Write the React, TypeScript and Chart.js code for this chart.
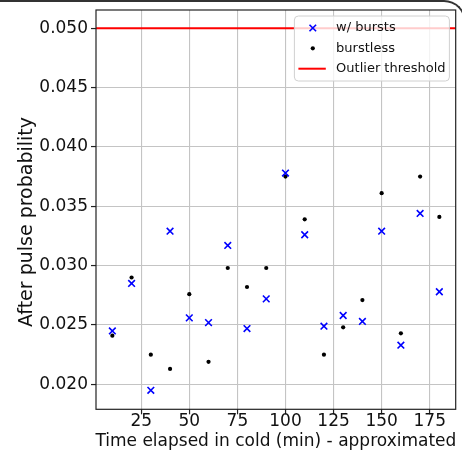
import React, { useEffect, useRef } from "react";
import { Chart, registerables } from "chart.js";

Chart.register(...registerables);

// ---- data ----
const minutes = [10, 20, 30, 40, 50, 60, 70, 80, 90, 100, 110, 120, 130, 140, 150, 160, 170, 180];
const withBursts = [0.0245, 0.0285, 0.0195, 0.0329, 0.0256, 0.0252, 0.0317, 0.0247, 0.0272, 0.0378, 0.0326, 0.0249, 0.0258, 0.0253, 0.0329, 0.0233, 0.0344, 0.0278];
const burstless = [0.0241, 0.0290, 0.0225, 0.0213, 0.0276, 0.0219, 0.0298, 0.0282, 0.0298, 0.0375, 0.0339, 0.0225, 0.0248, 0.0271, 0.0361, 0.0243, 0.0375, 0.0341];
const threshold = 0.05;
const xTicks = [25, 50, 75, 100, 125, 150, 175];
const yTicks = [0.02, 0.025, 0.03, 0.035, 0.04, 0.045, 0.05];
const xLimits = [1.5, 188.5];
const yLimits = [0.0179, 0.05153];
const legendLabels = ["w/ bursts", "burstless", "Outlier threshold"];
const xTitle = "Time elapsed in cold (min) - approximated";
const yTitle = "After pulse probability";

const FONT = '"DejaVu Sans", sans-serif';

const zeroPad = (s: any) => {
  s.paddingTop = 0;
  s.paddingBottom = 0;
  s.paddingLeft = 0;
  s.paddingRight = 0;
};

const decor = {
  id: "decor",
  afterDatasetsDraw(chart: any) {
    const { ctx, chartArea: a } = chart;
    ctx.save();
    // frame
    ctx.strokeStyle = "#222";
    ctx.lineWidth = 1.2;
    ctx.strokeRect(a.left, a.top, a.right - a.left, a.bottom - a.top);

    // legend
    const lw = 155, lh = 65;
    const lx = a.right - 6.3 - lw, ly = a.top + 6;
    const r = 4;
    ctx.beginPath();
    ctx.moveTo(lx + r, ly);
    ctx.lineTo(lx + lw - r, ly);
    ctx.quadraticCurveTo(lx + lw, ly, lx + lw, ly + r);
    ctx.lineTo(lx + lw, ly + lh - r);
    ctx.quadraticCurveTo(lx + lw, ly + lh, lx + lw - r, ly + lh);
    ctx.lineTo(lx + r, ly + lh);
    ctx.quadraticCurveTo(lx, ly + lh, lx, ly + lh - r);
    ctx.lineTo(lx, ly + r);
    ctx.quadraticCurveTo(lx, ly, lx + r, ly);
    ctx.closePath();
    ctx.fillStyle = "rgba(255,255,255,0.8)";
    ctx.fill();
    ctx.strokeStyle = "#d0d0d0";
    ctx.lineWidth = 1;
    ctx.stroke();

    const mx = lx + 18.4;
    const rows = [ly + 12, ly + 32.3, ly + 52.7];
    // x marker
    ctx.strokeStyle = "#0000ff";
    ctx.lineWidth = 1.6;
    const d = 3.3;
    ctx.beginPath();
    ctx.moveTo(mx - d, rows[0] - d);
    ctx.lineTo(mx + d, rows[0] + d);
    ctx.moveTo(mx - d, rows[0] + d);
    ctx.lineTo(mx + d, rows[0] - d);
    ctx.stroke();
    // dot
    ctx.fillStyle = "#000";
    ctx.beginPath();
    ctx.arc(mx, rows[1], 2.1, 0, Math.PI * 2);
    ctx.fill();
    // line
    ctx.strokeStyle = "#ff0000";
    ctx.lineWidth = 2;
    ctx.beginPath();
    ctx.moveTo(lx + 4, rows[2]);
    ctx.lineTo(lx + 31.4, rows[2]);
    ctx.stroke();

    ctx.fillStyle = "#111";
    ctx.font = `13px ${FONT}`;
    ctx.textAlign = "left";
    ctx.textBaseline = "middle";
    legendLabels.forEach((t, i) => ctx.fillText(t, lx + 41.7, rows[i]));
    ctx.restore();
  },
  afterDraw(chart: any) {
    const { ctx, chartArea: a } = chart;
    ctx.save();
    ctx.fillStyle = "#111";
    ctx.font = `17px ${FONT}`;
    ctx.textAlign = "center";
    ctx.textBaseline = "alphabetic";
    ctx.fillText(xTitle, (a.left + a.right) / 2, 445.5);
    ctx.translate(27, 222);
    ctx.rotate(-Math.PI / 2);
    ctx.textBaseline = "middle";
    ctx.font = `19px ${FONT}`;
    ctx.fillText(yTitle, 0, 0);
    ctx.restore();
  },
};

export default function App() {
  const ref = useRef<HTMLCanvasElement>(null);
  useEffect(() => {
    document.body.style.margin = "0";
    const gridCommon = {
      color: "#c4c4c4",
      lineWidth: 1.1,
      tickColor: "#222",
      tickLength: 5,
      tickWidth: 1.2,
    };
    const tickFont = { family: FONT, size: 17 };
    const chart = new Chart(ref.current!, {
      type: "scatter",
      data: {
        datasets: [
          {
            label: legendLabels[0],
            data: minutes.map((x, i) => ({ x, y: withBursts[i] })),
            pointStyle: "crossRot",
            radius: 4.7,
            borderWidth: 1.6,
            borderColor: "#0000ff",
            backgroundColor: "#0000ff",
          },
          {
            label: legendLabels[1],
            data: minutes.map((x, i) => ({ x, y: burstless[i] })),
            pointStyle: "circle",
            radius: 2.1,
            borderWidth: 0,
            backgroundColor: "#000",
            borderColor: "#000",
          },
          {
            type: "line",
            label: legendLabels[2],
            data: [
              { x: xLimits[0], y: threshold },
              { x: xLimits[1], y: threshold },
            ],
            borderColor: "#ff0000",
            borderWidth: 2,
            pointRadius: 0,
            showLine: true,
          } as any,
        ],
      },
      options: {
        animation: false,
        responsive: false,
        devicePixelRatio: 1,
        events: [],
        layout: { padding: { top: 10, right: 1.4, left: 0, bottom: 0 } },
        plugins: { legend: { display: false }, tooltip: { enabled: false } },
        scales: {
          x: {
            type: "linear",
            min: xLimits[0],
            max: xLimits[1],
            afterBuildTicks: (s: any) => {
              s.ticks = xTicks.map((v) => ({ value: v }));
            },
            afterFit: (s: any) => {
              s.height = 44.7;
              zeroPad(s);
            },
            grid: gridCommon,
            border: { display: false },
            ticks: {
              font: tickFont,
              color: "#111",
              padding: -3,
              maxRotation: 0,
              autoSkip: false,
              callback: (v: any) => String(v),
            },
          },
          y: {
            type: "linear",
            min: yLimits[0],
            max: yLimits[1],
            afterBuildTicks: (s: any) => {
              s.ticks = yTicks.map((v) => ({ value: v }));
            },
            afterFit: (s: any) => {
              s.width = 96;
              zeroPad(s);
            },
            grid: gridCommon,
            border: { display: false },
            ticks: {
              font: tickFont,
              color: "#111",
              padding: 3,
              autoSkip: false,
              callback: (v: any) => Number(v).toFixed(3),
            },
          },
        },
      },
      plugins: [decor],
    } as any);
    return () => chart.destroy();
  }, []);
  return (
    <div style={{ position: "relative", width: 462, height: 454, overflow: "hidden", background: "#fff" }}>
      <canvas ref={ref} width={462} height={454} style={{ display: "block" }} />
      <div
        style={{
          position: "absolute",
          left: -10,
          top: 0,
          width: 476,
          height: 80,
          boxSizing: "border-box",
          borderTop: "2px solid #333",
          borderRight: "2px solid #333",
          borderTopRightRadius: 22,
        }}
      />
    </div>
  );
}
